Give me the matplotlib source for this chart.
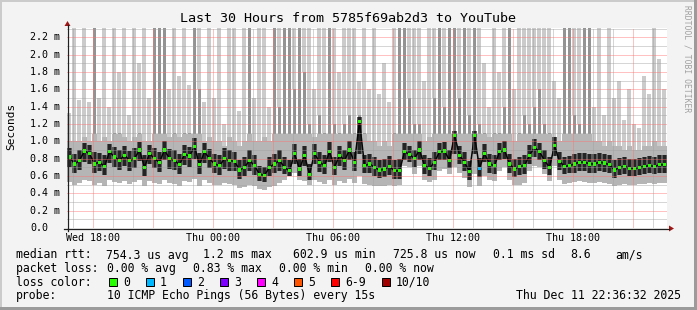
import matplotlib
matplotlib.use('Agg')
import matplotlib.pyplot as plt
import matplotlib.transforms as mtransforms
from matplotlib.patches import Rectangle, Polygon
from matplotlib.lines import Line2D
import numpy as np

W, H = 697, 310

# one value per 15 minute step, hours counted from Wed 16:42
step_h = 0.25

rtt_med = [0.82, 0.74, 0.78, 0.89, 0.86, 0.74, 0.76, 0.71, 0.88, 0.82, 0.78, 0.84, 0.78, 0.80, 0.90,
           0.70, 0.86, 0.80, 0.76, 0.90, 0.80, 0.78, 0.73, 0.85, 0.83, 0.94, 0.73, 0.88, 0.80, 0.74,
           0.72, 0.80, 0.78, 0.77, 0.67, 0.70, 0.78, 0.72, 0.62, 0.61, 0.70, 0.74, 0.78, 0.70, 0.66,
           0.86, 0.68, 0.84, 0.62, 0.86, 0.76, 0.72, 0.88, 0.70, 0.84, 0.78, 0.90, 0.76, 1.23, 0.72,
           0.74, 0.70, 0.67, 0.68, 0.71, 0.66, 0.66, 0.88, 0.85, 0.80, 0.90, 0.72, 0.69, 0.76, 0.88,
           0.89, 0.78, 1.07, 0.84, 0.76, 0.65, 1.07, 0.69, 0.86, 0.74, 0.72, 0.88, 0.90, 0.74, 0.68,
           0.71, 0.72, 0.84, 0.93, 0.88, 0.78, 0.70, 0.95, 0.77, 0.71, 0.72, 0.74, 0.76, 0.76, 0.74,
           0.74, 0.76, 0.75, 0.73, 0.67, 0.70, 0.71, 0.69, 0.69, 0.70, 0.71, 0.72, 0.71, 0.73, 0.73]

rtt_p25 = [0.70, 0.64, 0.67, 0.76, 0.74, 0.63, 0.66, 0.61, 0.75, 0.70, 0.67, 0.72, 0.66, 0.69, 0.77,
           0.60, 0.74, 0.69, 0.65, 0.78, 0.68, 0.67, 0.62, 0.73, 0.71, 0.80, 0.62, 0.75, 0.69, 0.63,
           0.61, 0.68, 0.66, 0.66, 0.57, 0.60, 0.66, 0.61, 0.54, 0.53, 0.60, 0.63, 0.66, 0.62, 0.60,
           0.74, 0.60, 0.72, 0.55, 0.74, 0.65, 0.62, 0.76, 0.61, 0.72, 0.67, 0.78, 0.66, 0.85, 0.63,
           0.63, 0.60, 0.58, 0.59, 0.61, 0.57, 0.57, 0.78, 0.76, 0.70, 0.79, 0.62, 0.60, 0.67, 0.78,
           0.79, 0.69, 0.86, 0.74, 0.66, 0.56, 0.85, 0.59, 0.76, 0.64, 0.62, 0.78, 0.80, 0.64, 0.59,
           0.61, 0.62, 0.74, 0.82, 0.78, 0.68, 0.61, 0.83, 0.67, 0.62, 0.63, 0.64, 0.66, 0.66, 0.64,
           0.64, 0.66, 0.65, 0.63, 0.58, 0.61, 0.62, 0.60, 0.60, 0.61, 0.62, 0.63, 0.62, 0.64, 0.64]

rtt_p75 = [0.92, 0.86, 0.90, 0.98, 0.96, 0.88, 0.87, 0.84, 0.97, 0.93, 0.90, 0.95, 0.89, 0.92, 0.99,
           0.84, 0.96, 0.92, 0.88, 1.00, 0.91, 0.90, 0.86, 0.96, 0.94, 1.04, 0.87, 0.98, 0.91, 0.86,
           0.84, 0.92, 0.90, 0.88, 0.78, 0.82, 0.90, 0.84, 0.72, 0.71, 0.82, 0.86, 0.90, 0.82, 0.78,
           0.97, 0.80, 0.95, 0.74, 0.97, 0.88, 0.84, 0.99, 0.82, 0.95, 0.90, 1.01, 0.88, 1.28, 0.84,
           0.86, 0.82, 0.78, 0.80, 0.83, 0.78, 0.80, 0.98, 0.95, 0.90, 1.00, 0.84, 0.81, 0.88, 0.98,
           0.99, 0.90, 1.12, 0.95, 0.88, 0.77, 1.12, 0.81, 0.97, 0.86, 0.84, 0.98, 1.00, 0.86, 0.80,
           0.82, 0.84, 0.96, 1.03, 0.98, 0.90, 0.82, 1.05, 0.88, 0.82, 0.83, 0.85, 0.87, 0.87, 0.85,
           0.85, 0.87, 0.86, 0.84, 0.78, 0.81, 0.82, 0.80, 0.80, 0.81, 0.82, 0.83, 0.82, 0.84, 0.84]

rtt_lo = [0.53, 0.50, 0.52, 0.55, 0.54, 0.50, 0.52, 0.49, 0.55, 0.53, 0.52, 0.54, 0.51, 0.53, 0.56,
          0.48, 0.54, 0.52, 0.51, 0.55, 0.52, 0.51, 0.49, 0.54, 0.53, 0.57, 0.49, 0.55, 0.52, 0.50,
          0.50, 0.52, 0.51, 0.50, 0.46, 0.47, 0.50, 0.48, 0.45, 0.44, 0.47, 0.49, 0.52, 0.56, 0.62,
          0.64, 0.55, 0.54, 0.50, 0.56, 0.53, 0.51, 0.56, 0.50, 0.54, 0.52, 0.57, 0.52, 0.60, 0.51,
          0.50, 0.49, 0.48, 0.49, 0.50, 0.48, 0.50, 0.72, 0.70, 0.62, 0.72, 0.55, 0.53, 0.56, 0.66,
          0.68, 0.62, 0.70, 0.64, 0.58, 0.47, 0.62, 0.48, 0.60, 0.55, 0.54, 0.66, 0.70, 0.55, 0.50,
          0.50, 0.52, 0.66, 0.72, 0.70, 0.62, 0.54, 0.72, 0.56, 0.51, 0.52, 0.53, 0.54, 0.53, 0.52,
          0.52, 0.53, 0.52, 0.51, 0.49, 0.50, 0.51, 0.50, 0.50, 0.51, 0.51, 0.52, 0.51, 0.52, 0.52]

rtt_p90 = [1.00, 1.00, 1.00, 1.05, 1.00, 2.31, 1.00, 1.05, 1.00, 1.10, 1.10, 1.05, 1.00, 1.05, 1.10,
           1.00, 1.00, 2.31, 2.31, 2.31, 1.05, 1.10, 1.05, 1.10, 1.10, 2.31, 1.60, 1.00, 1.05, 1.00,
           1.00, 0.95, 1.05, 1.00, 0.95, 1.00, 2.31, 1.00, 1.00, 1.05, 1.00, 2.31, 1.40, 2.31, 2.31,
           1.60, 2.31, 1.80, 1.20, 1.05, 1.30, 1.10, 2.31, 1.20, 1.10, 1.20, 1.30, 1.10, 1.30, 1.10,
           1.00, 1.00, 0.95, 1.00, 0.95, 1.10, 2.31, 2.31, 1.50, 1.20, 1.20, 1.00, 1.05, 1.50, 2.31,
           1.40, 2.31, 2.31, 1.50, 2.31, 1.30, 2.31, 1.20, 1.10, 1.05, 1.10, 1.10, 1.40, 2.31, 1.00,
           1.10, 1.30, 1.20, 1.40, 1.60, 1.20, 1.10, 1.05, 1.00, 2.31, 2.31, 1.30, 1.20, 2.31, 2.31,
           1.00, 1.00, 0.95, 1.00, 0.95, 0.95, 0.90, 0.95, 0.90, 0.90, 0.95, 0.95, 1.00, 0.95, 0.95]

rtt_hi = [1.33, 2.31, 1.48, 2.31, 1.45, 2.31, 1.50, 2.31, 1.40, 2.31, 1.80, 2.31, 1.30, 2.31, 1.90,
          2.31, 1.50, 2.31, 2.31, 2.31, 1.60, 2.31, 1.75, 2.31, 1.65, 2.31, 2.31, 1.45, 2.31, 1.50,
          2.31, 1.20, 2.31, 2.31, 1.35, 2.31, 2.31, 1.50, 2.31, 2.31, 1.40, 2.31, 2.31, 2.31, 2.31,
          2.31, 2.31, 2.31, 2.31, 1.60, 2.31, 2.31, 2.31, 2.31, 1.80, 2.31, 2.31, 2.31, 1.70, 2.31,
          1.60, 2.31, 1.55, 1.90, 1.45, 2.31, 2.31, 2.31, 2.31, 2.31, 2.31, 1.70, 2.31, 2.31, 2.31,
          2.31, 2.31, 2.31, 2.31, 2.31, 2.31, 2.31, 2.31, 1.90, 1.40, 2.31, 1.80, 2.31, 2.31, 1.60,
          2.31, 2.31, 2.31, 2.31, 2.31, 2.31, 2.31, 1.70, 1.50, 2.31, 2.31, 2.31, 2.31, 2.31, 2.31,
          1.40, 2.31, 1.30, 2.31, 1.50, 1.70, 1.25, 1.60, 1.20, 1.15, 1.75, 1.55, 2.31, 1.95, 1.60]

# steps where a ping was lost (all others 0/10)
loss_steps = [82]
loss_counts = [1]

tick_hours = [1.3, 7.3, 13.3, 19.3, 25.3]
tick_labels = ['Wed 18:00', 'Thu 00:00', 'Thu 06:00', 'Thu 12:00', 'Thu 18:00']

rtt_stats = ['754.3 us avg', '1.2 ms max', '602.9 us min', '725.8 us now', '0.1 ms sd', '8.6', 'am/s']
loss_stats = ['0.00 % avg', '0.83 % max', '0.00 % min', '0.00 % now']
loss_names = ['0', '1', '2', '3', '4', '5', '6-9', '10/10']
loss_colors = ['#26ff00', '#00b8ff', '#0059ff', '#7e00ff', '#ff00ff', '#ff5500', '#ff0000', '#a00000']

plt.rcParams['font.family'] = ['DejaVu Sans Mono']


def fx(x):
    return x / W


def fy(y):
    return 1 - y / H


fig = plt.figure(figsize=(W / 100, H / 100), dpi=100, facecolor='#f3f3f3')
ax = fig.add_axes([fx(67), fy(228), 600 / W, 200 / H])
ax.set_facecolor('white')
ax.set_xlim(0, 30)
ax.set_ylim(0, 200 / 86.6)
for s in ax.spines.values():
    s.set_visible(False)
ax.set_xticks([])
ax.set_yticks([])

t = np.arange(len(rtt_med)) * step_h
med = np.array(rtt_med)
lo = np.array(rtt_lo)
p25 = np.array(rtt_p25)
p75 = np.array(rtt_p75)
p90 = np.array(rtt_p90)
hi = np.array(rtt_hi)

# smoke: light spikes for the outliers, solid bands near the median
solid_cap = np.minimum(p90, 1.08)
kw = dict(align='edge', linewidth=0, antialiased=False)
ax.bar(t, hi - p90, bottom=p90, width=step_h * 0.8, color='#cbcbcb', **kw)
ax.bar(t + step_h * 0.2, p90 - solid_cap, bottom=solid_cap, width=step_h * 0.6, color='#939393', **kw)
ax.bar(t, np.maximum(solid_cap - p75, 0), bottom=p75, width=step_h, color='#b6b6b6', **kw)
ax.bar(t, p25 - lo, bottom=lo, width=step_h, color='#b5b5b5', **kw)
ax.bar(t, p75 - p25, bottom=p25, width=step_h, color='#5e5e5e', **kw)
ax.bar(t + step_h * 0.2, p75 - p25, bottom=p25, width=step_h * 0.6, color='#242424', **kw)

mid = t + step_h / 2
ax.plot(mid, med, color='#050505', lw=1.1, zorder=3)
pt_colors = [loss_colors[0]] * len(med)
for s, c in zip(loss_steps, loss_counts):
    pt_colors[s] = loss_colors[c]
ax.scatter(mid, med, s=5.5, marker='s', c=pt_colors, linewidths=0, zorder=4)

# grid
for v in np.arange(0.1, 2.31, 0.1):
    major = int(round(v * 10)) % 2 == 0
    ax.axhline(v, color='#ff7070' if major else '#a0a0a0', lw=0.72,
               ls=(0, (1, 1)), alpha=0.85, zorder=5)
for h in np.arange(0.3, 30, 1.0):
    major = int(round(h - 1.3)) % 3 == 0
    ax.axvline(h, color='#ff7070' if major else '#a0a0a0', lw=0.72,
               ls=(0, (1, 1)), alpha=0.85, zorder=5)

# axes and arrows
axis_c = '#202020'
arrow_c = '#a01515'
fig.add_artist(Line2D([fx(64), fx(669)], [fy(228.5), fy(228.5)], color=axis_c, lw=0.9))
fig.add_artist(Line2D([fx(67.5), fx(67.5)], [fy(231), fy(25)], color=axis_c, lw=0.9))
fig.add_artist(Polygon([[fx(669), fy(225.5)], [fx(669), fy(231.5)], [fx(674), fy(228.5)]],
                       closed=True, color=arrow_c, lw=0))
fig.add_artist(Polygon([[fx(64.5), fy(26)], [fx(70.5), fy(26)], [fx(67.5), fy(21)]],
                       closed=True, color=arrow_c, lw=0))

# tick labels
ytr = mtransforms.blended_transform_factory(fig.transFigure, ax.transData)
for k in range(12):
    v = k * 0.2
    lab = '0.0' if k == 0 else f'{v:.1f} m'
    ax.text(fx(30), v, lab, transform=ytr, ha='left', va='center', fontsize=7.2)
xtr = mtransforms.blended_transform_factory(ax.transData, fig.transFigure)
for h, lab in zip(tick_hours, tick_labels):
    ax.text(h, fy(238), lab, transform=xtr, ha='center', va='center', fontsize=7.2)

fig.text(fx(11), fy(126.5), 'Seconds', rotation=90, ha='center', va='center', fontsize=8)
fig.text(fx(348), fy(19), 'Last 30 Hours from 5785f69ab2d3 to YouTube',
         ha='center', va='center', fontsize=9.6)
fig.text(fx(687.5), fy(5), 'RRDTOOL / TOBI OETIKER', rotation=270, ha='center', va='top',
         fontsize=5.8, color='#a0a0a0')

# legend
lfs = 8.3
fig.text(fx(16), fy(255), 'median rtt:', ha='left', va='center', fontsize=lfs)
for x, s in zip([106, 203, 293, 393, 493, 570, 615], rtt_stats):
    fig.text(fx(x), fy(255), s, ha='left', va='center', fontsize=lfs)
fig.text(fx(16), fy(268.5), 'packet loss:', ha='left', va='center', fontsize=lfs)
for x, s in zip([107, 193, 279, 365], loss_stats):
    fig.text(fx(x), fy(268.5), s, ha='left', va='center', fontsize=lfs)
fig.text(fx(16), fy(282), 'loss color:', ha='left', va='center', fontsize=lfs)
box_x = [108.5, 145.5, 182.5, 219.5, 256.5, 293.5, 330.5, 381.5]
for bx, name, c in zip(box_x, loss_names, loss_colors):
    fig.patches.append(Rectangle((fx(bx), fy(286)), 8 / W, 8 / H, transform=fig.transFigure,
                                 facecolor=c, edgecolor='black', lw=0.72))
    fig.text(fx(bx + 14.5), fy(282), name, ha='left', va='center', fontsize=lfs)
fig.text(fx(16), fy(295.5), 'probe:', ha='left', va='center', fontsize=lfs)
fig.text(fx(107), fy(295.5), '10 ICMP Echo Pings (56 Bytes) every 15s', ha='left', va='center',
         fontsize=lfs)
fig.text(fx(681), fy(295.5), 'Thu Dec 11 22:36:32 2025', ha='right', va='center', fontsize=lfs)

# 3d frame
fig.patches.append(Rectangle((0, fy(2)), 1, 2 / H, transform=fig.transFigure, color='#cbcbcb', lw=0))
fig.patches.append(Rectangle((0, 0), 2 / W, 1, transform=fig.transFigure, color='#cbcbcb', lw=0))
fig.patches.append(Rectangle((0, 0), 1, 3 / H, transform=fig.transFigure, color='#9b9b9b', lw=0))
fig.patches.append(Rectangle((fx(694), 0), 3 / W, 1, transform=fig.transFigure, color='#9b9b9b', lw=0))

fig.savefig('out.png', dpi=100, facecolor=fig.get_facecolor())
